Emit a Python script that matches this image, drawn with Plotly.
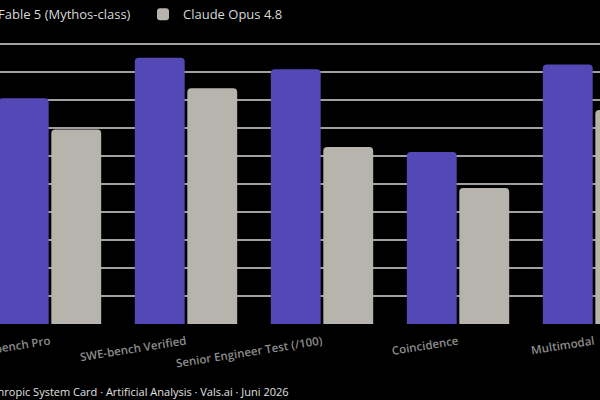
import plotly.graph_objects as go

categories = ["SWE-bench Pro", "SWE-bench Verified", "Senior Engineer Test (/100)", "Coincidence", "Multimodal"]
fable_values = [80.6, 95.1, 91.0, 61.4, 92.7]
opus_values = [69.5, 84.2, 63.2, 48.6, 76.4]
series_names = ["Fable 5 (Mythos-class)", "Claude Opus 4.8"]
footer_text = "Anthropic System Card · Artificial Analysis · Vals.ai · Juni 2026"

PURPLE = "#5448B6"
GREY = "#B6B4AC"
FONT = "Open Sans, Lato, sans-serif"

fig = go.Figure()
fig.add_trace(go.Bar(x=categories, y=fable_values, name=series_names[0],
                     marker=dict(color=PURPLE, line=dict(width=0))))
fig.add_trace(go.Bar(x=categories, y=opus_values, name=series_names[1],
                     marker=dict(color=GREY, line=dict(width=0))))

fig.update_layout(
    width=600, height=400,
    paper_bgcolor="#000000", plot_bgcolor="#000000",
    margin=dict(l=0, r=0, t=30, b=76, autoexpand=False),
    barmode="group", bargap=0.228, bargroupgap=0.05, barcornerradius=4,
    font=dict(family=FONT, color="#d8d8d8"),
    showlegend=True,
    legend=dict(orientation="h", x=-0.07, xanchor="left", y=1.104, yanchor="top",
                font=dict(size=13, color="#d8d8d8"), bgcolor="rgba(0,0,0,0)",
                traceorder="normal", entrywidth=140, entrywidthmode="pixels"),
    xaxis=dict(range=[-0.3676, 4.044], tickangle=-9, showgrid=False, zeroline=False,
               showline=False, ticks="", ticklabelstandoff=8,
               tickfont=dict(size=11.5, color="#8c8c8c", family=FONT, weight=600)),
    yaxis=dict(range=[0, 105], dtick=10, showgrid=True, gridcolor="#a0a0a0", gridwidth=2,
               zeroline=False, showticklabels=False, showline=False, ticks=""),
    annotations=[dict(text=footer_text, xref="paper", yref="paper", x=-0.037, y=-0.23,
                      xanchor="left", yanchor="middle", showarrow=False,
                      font=dict(size=11, color="#e0e0e0", family=FONT))],
)

fig.write_html("out.html")
